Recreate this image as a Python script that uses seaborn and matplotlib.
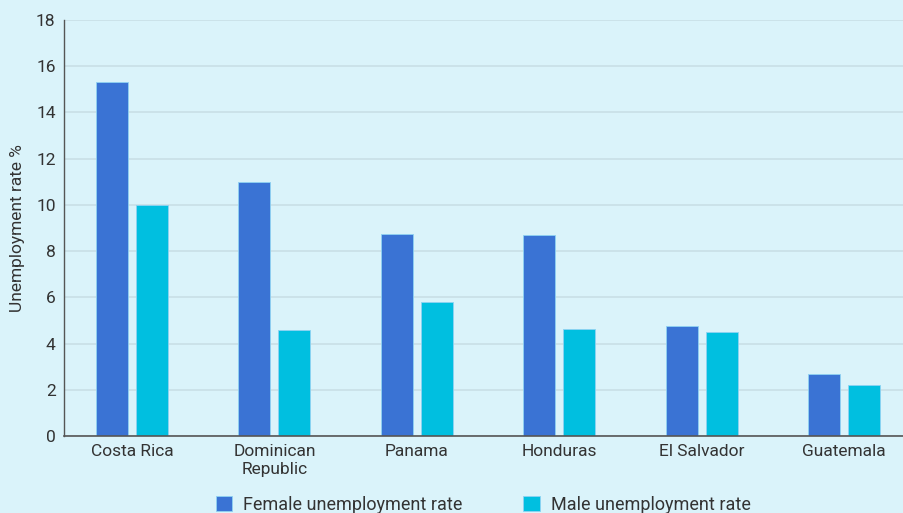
import matplotlib
matplotlib.use("Agg")
import matplotlib.pyplot as plt
import seaborn as sns
import pandas as pd

countries = ["Costa Rica", "Dominican\nRepublic", "Panama", "Honduras", "El Salvador", "Guatemala"]
female_rate = [15.3, 11.0, 8.75, 8.7, 4.75, 2.7]
male_rate = [10.0, 4.6, 5.8, 4.65, 4.5, 2.2]
series_names = ["Female unemployment rate", "Male unemployment rate"]
y_ticks = [0, 2, 4, 6, 8, 10, 12, 14, 16, 18]

df = pd.DataFrame({
    "country": countries * 2,
    "rate": female_rate + male_rate,
    "series": [series_names[0]] * len(countries) + [series_names[1]] * len(countries),
})

bg = "#daf3fa"
sns.set_theme(style="white")
plt.rcParams["font.family"] = ["Roboto", "DejaVu Sans"]

fig = plt.figure(figsize=(9.04, 5.13), dpi=100, facecolor=bg)
ax = fig.add_axes([64 / 904, 1 - 436 / 513, 1 - 64 / 904, (436 - 20) / 513])
ax.set_facecolor(bg)

sns.barplot(data=df, x="country", y="rate", hue="series",
            palette=["#3a73d4", "#00bfe0"], saturation=1, width=0.56, gap=0.2,
            edgecolor="#8fd3f2", linewidth=0.6, ax=ax, legend=True)

ax.set_ylim(0, 18)
ax.set_yticks(y_ticks)
ax.set_xlim(-0.477, 5.42)
ax.yaxis.grid(True, color="#c9dfe6", linewidth=1.2)
ax.set_axisbelow(True)
for s in ["top", "right"]:
    ax.spines[s].set_visible(False)
ax.spines["left"].set_color("#555555")
ax.spines["bottom"].set_color("#555555")
ax.spines["left"].set_linewidth(1.0)
ax.spines["bottom"].set_linewidth(1.2)
ax.tick_params(axis="both", length=0, labelsize=12.5, colors="#333333", pad=6)
ax.set_xlabel("")
ax.set_ylabel("Unemployment rate %", fontsize=12.5, color="#333333", labelpad=8)

handles, labels = ax.get_legend_handles_labels()
ax.get_legend().remove()
fig.legend(handles, labels, loc="center", bbox_to_anchor=(483 / 904, 1 - 505 / 513),
           ncol=2, frameon=False, fontsize=13, handlelength=0.9, handleheight=0.9,
           columnspacing=3.4, handletextpad=0.6, labelcolor="#333333")

fig.savefig("out.png", dpi=100, facecolor=bg)
